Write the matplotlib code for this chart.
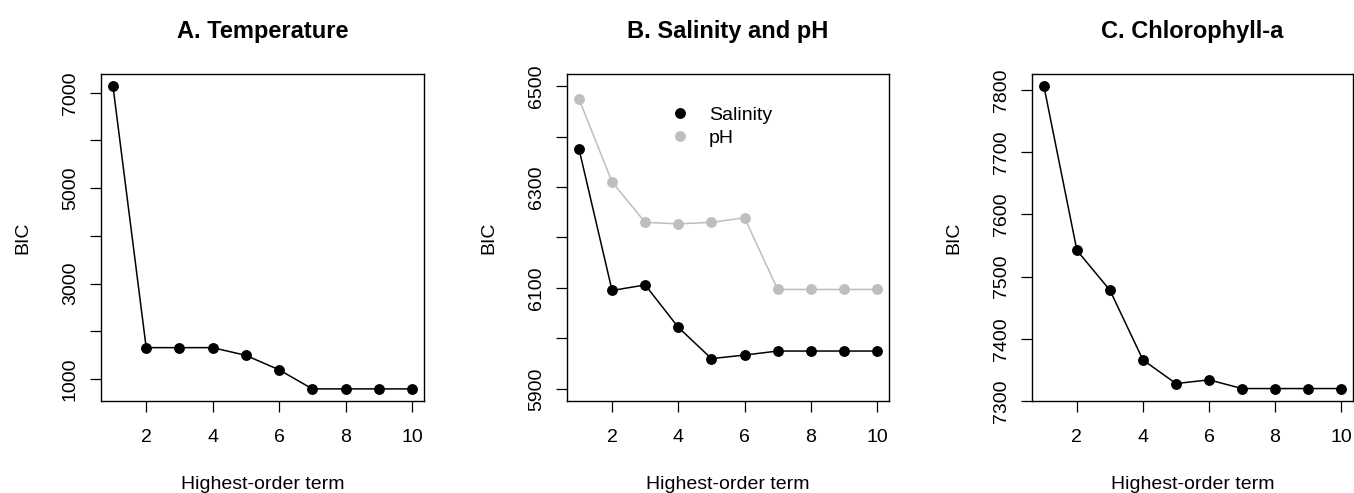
import matplotlib
matplotlib.use("Agg")
import matplotlib.pyplot as plt
from matplotlib.lines import Line2D

plt.rcParams['font.family'] = ['Liberation Sans', 'DejaVu Sans']

order = [1, 2, 3, 4, 5, 6, 7, 8, 9, 10]
temp_bic = [7140, 1655, 1655, 1655, 1493, 1190, 790, 790, 790, 790]
sal_bic = [6376, 6095, 6106, 6022, 5960, 5967, 5975, 5975, 5975, 5975]
ph_bic = [6475, 6310, 6230, 6227, 6230, 6239, 6097, 6097, 6097, 6097]
chl_bic = [7806, 7542, 7478, 7366, 7328, 7334, 7320, 7320, 7320, 7320]

titles = ["A. Temperature", "B. Salinity and pH", "C. Chlorophyll-a"]
x_ticks = [2, 4, 6, 8, 10]
ph_color = "#bebebe"

W, H = 1354, 493
fig = plt.figure(figsize=(W / 100, H / 100), dpi=100)

def box(left, right):
    return [left / W, (H - 401) / H, (right - left) / W, (401 - 74) / H]

axA = fig.add_axes(box(101, 424))
axB = fig.add_axes(box(567, 889))
axC = fig.add_axes(box(1032, 1353))


def r_limits(vals):
    lo, hi = min(vals), max(vals)
    pad = (hi - lo) * 0.04
    return lo - pad, hi + pad


def style(ax, title, yticks, ylabels):
    ax.set_xlim(r_limits(order))
    ax.set_xticks(x_ticks)
    ax.set_yticks(yticks)
    ax.set_yticklabels(ylabels, rotation=90, va='center')
    ax.tick_params(direction='out', length=8, width=0.9, labelsize=14)
    ax.tick_params(axis='x', pad=12.5)
    ax.tick_params(axis='y', pad=8)
    for s in ax.spines.values():
        s.set_linewidth(1.0)
    ax.set_title(title, fontsize=17, fontweight='bold', pad=26)
    ax.set_xlabel("Highest-order term", fontsize=14, labelpad=21)
    ax.set_ylabel("BIC", fontsize=14, labelpad=22)


# A. Temperature
axA.plot(order, temp_bic, color='black', lw=1.1, marker='o', ms=6.8)
axA.set_ylim(r_limits(temp_bic))
yt = list(range(1000, 8000, 1000))
style(axA, titles[0], yt, [str(v) if v % 2000 == 1000 else "" for v in yt])

# B. Salinity and pH
axB.plot(order, ph_bic, color=ph_color, lw=1.1, marker='o', ms=6.8)
axB.plot(order, sal_bic, color='black', lw=1.1, marker='o', ms=6.8)
axB.set_ylim(r_limits([5900, 6500]))
yt = list(range(5900, 6600, 100))
style(axB, titles[1], yt, [str(v) if v % 200 == 100 else "" for v in yt])
handles = [Line2D([], [], color='black', marker='o', ls='none', ms=6.8),
           Line2D([], [], color=ph_color, marker='o', ls='none', ms=6.8)]
axB.legend(handles, ["Salinity", "pH"], loc='upper left',
           bbox_to_anchor=(0.266, 0.955), frameon=False, fontsize=14,
           handlelength=1.0, handletextpad=1.0, labelspacing=0.3)

# C. Chlorophyll-a
axC.plot(order, chl_bic, color='black', lw=1.1, marker='o', ms=6.8)
axC.set_ylim(r_limits(chl_bic))
yt = list(range(7300, 7900, 100))
style(axC, titles[2], yt, [str(v) for v in yt])

fig.savefig("out.png", dpi=100)
